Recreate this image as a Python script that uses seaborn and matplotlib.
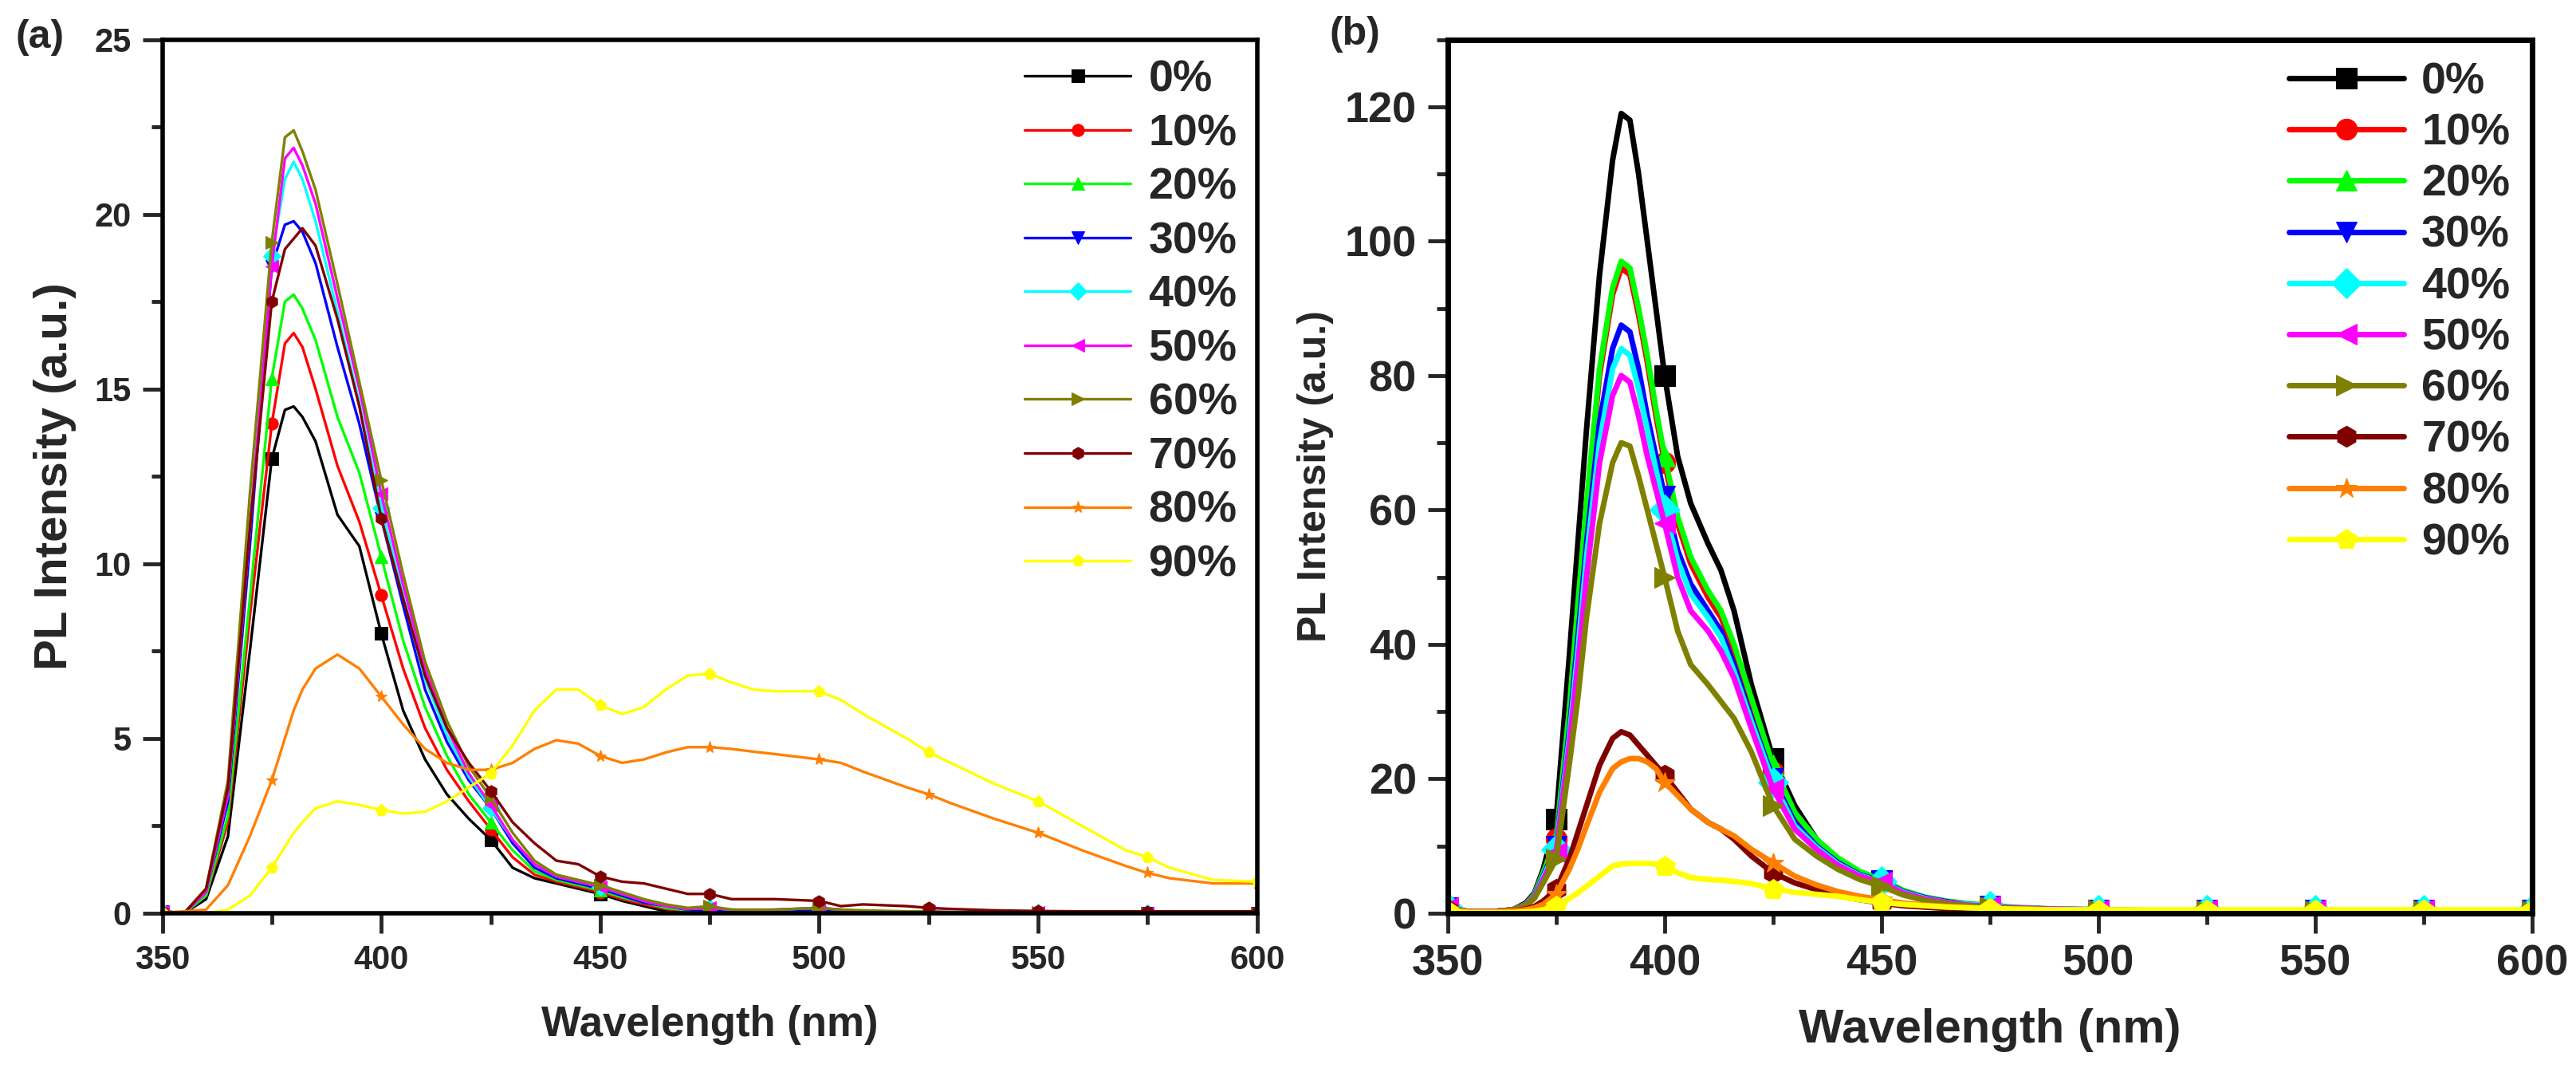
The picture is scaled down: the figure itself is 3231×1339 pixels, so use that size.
import numpy as np
import pandas as pd
import matplotlib
matplotlib.use("Agg")
import matplotlib.pyplot as plt
import seaborn as sns
from matplotlib.ticker import MultipleLocator

sns.set_theme(style="white")
plt.rcParams['font.family'] = ['Liberation Sans', 'DejaVu Sans']
plt.rcParams['font.weight'] = 'bold'

labels = ['0%', '10%', '20%', '30%', '40%', '50%', '60%', '70%', '80%', '90%']
colors = ['#000000', '#FF0000', '#00FF00', '#0000FF', '#00FFFF',
          '#FF00FF', '#808000', '#800000', '#FF8000', '#FFFF00']
markers = ['s', 'o', '^', 'v', 'D', '<', '>', 'h', '*', 'p']

# panel (a)
wl_a = [350, 355, 360, 365, 370, 375, 378, 380, 382, 385, 390, 395, 400, 405, 410,
        415, 420, 425, 430, 435, 440, 445, 450, 455, 460, 465, 470, 475, 480, 485,
        490, 500, 505, 510, 520, 525, 530, 540, 550, 560, 570, 575, 580, 590, 600]

a_0 = [0.05, 0, 0.4, 2.2, 7.5, 13.0, 14.4, 14.5, 14.2, 13.5, 11.4, 10.5, 8.0, 5.8, 4.4,
       3.4, 2.7, 2.1, 1.3, 1.0, 0.85, 0.7, 0.55, 0.35, 0.2, 0.05, 0, 0, 0, 0,
       0, 0, 0, 0, 0, 0, 0, 0, 0, 0, 0, 0, 0, 0, 0]
a_10 = [0.05, 0, 0.5, 2.6, 8.5, 14.0, 16.3, 16.6, 16.2, 15.0, 12.8, 11.2, 9.1, 7.0, 5.3,
        4.1, 3.2, 2.4, 1.6, 1.1, 0.9, 0.75, 0.6, 0.4, 0.25, 0.12, 0.05, 0.05, 0.02, 0,
        0, 0, 0, 0, 0, 0, 0, 0, 0, 0, 0, 0, 0, 0, 0]
a_20 = [0.05, 0, 0.5, 2.8, 9.0, 15.3, 17.5, 17.7, 17.3, 16.4, 14.2, 12.6, 10.2, 7.8, 5.9,
        4.5, 3.4, 2.6, 1.8, 1.2, 0.95, 0.8, 0.65, 0.45, 0.3, 0.15, 0.08, 0.1, 0.05, 0.05,
        0.03, 0.1, 0.05, 0.03, 0.02, 0.02, 0.02, 0.01, 0, 0, 0, 0, 0, 0, 0]
a_30 = [0.05, 0, 0.6, 3.2, 10.5, 18.5, 19.7, 19.8, 19.5, 18.6, 16.2, 14.0, 11.3, 8.8, 6.4,
        4.9, 3.8, 3.0, 2.0, 1.3, 1.0, 0.85, 0.7, 0.5, 0.3, 0.2, 0.1, 0.1, 0.05, 0.05,
        0.05, 0.1, 0.05, 0.05, 0.03, 0.03, 0.02, 0.01, 0, 0, 0, 0, 0, 0, 0]
a_40 = [0.05, 0, 0.6, 3.4, 11.0, 18.8, 21.0, 21.5, 21.0, 19.8, 17.2, 14.6, 11.6, 9.1, 6.7,
        5.1, 3.9, 3.0, 2.1, 1.4, 1.05, 0.9, 0.75, 0.55, 0.35, 0.2, 0.12, 0.15, 0.1, 0.08,
        0.1, 0.15, 0.1, 0.05, 0.05, 0.05, 0.03, 0.02, 0.01, 0, 0, 0, 0, 0, 0]
a_50 = [0.05, 0, 0.6, 3.4, 11.0, 18.5, 21.6, 21.9, 21.4, 20.3, 17.6, 15.0, 12.0, 9.4, 7.0,
        5.3, 4.0, 3.1, 2.1, 1.4, 1.05, 0.9, 0.75, 0.55, 0.35, 0.2, 0.12, 0.15, 0.1, 0.08,
        0.1, 0.15, 0.1, 0.05, 0.05, 0.05, 0.03, 0.02, 0.01, 0, 0, 0, 0, 0, 0]
a_60 = [0.05, 0, 0.7, 3.8, 12.0, 19.2, 22.2, 22.4, 21.8, 20.7, 18.0, 15.2, 12.4, 9.7, 7.2,
        5.5, 4.2, 3.3, 2.3, 1.5, 1.1, 0.95, 0.8, 0.6, 0.4, 0.25, 0.15, 0.2, 0.1, 0.1,
        0.1, 0.15, 0.1, 0.08, 0.05, 0.05, 0.03, 0.02, 0.01, 0, 0, 0, 0, 0, 0]
a_70 = [0.05, 0, 0.7, 3.6, 11.0, 17.5, 19.0, 19.3, 19.6, 19.1, 17.0, 14.5, 11.3, 9.0, 6.8,
        5.3, 4.3, 3.5, 2.6, 2.0, 1.5, 1.4, 1.05, 0.9, 0.85, 0.7, 0.55, 0.55, 0.4, 0.4,
        0.4, 0.35, 0.2, 0.25, 0.2, 0.15, 0.12, 0.08, 0.06, 0.05, 0.05, 0.05, 0.05, 0.05, 0.05]
a_80 = [0.02, 0.05, 0.1, 0.8, 2.2, 3.8, 5.0, 5.8, 6.4, 7.0, 7.4, 7.0, 6.2, 5.4, 4.7,
        4.3, 4.1, 4.1, 4.3, 4.7, 4.95, 4.85, 4.5, 4.3, 4.4, 4.6, 4.75, 4.75, 4.7, 4.62,
        4.55, 4.4, 4.3, 4.05, 3.6, 3.4, 3.15, 2.7, 2.3, 1.8, 1.35, 1.15, 1.0, 0.85, 0.85]
a_90 = [0.02, 0.02, 0.0, 0.1, 0.5, 1.3, 1.9, 2.3, 2.6, 3.0, 3.2, 3.1, 2.95, 2.85, 2.9,
        3.2, 3.6, 4.0, 4.8, 5.8, 6.4, 6.4, 5.95, 5.7, 5.9, 6.4, 6.8, 6.85, 6.6, 6.4,
        6.35, 6.35, 6.1, 5.7, 5.0, 4.6, 4.3, 3.7, 3.2, 2.5, 1.8, 1.6, 1.3, 0.95, 0.9]

# panel (b)
wl_b = [350, 355, 360, 365, 368, 370, 372, 375, 378, 380, 382, 385, 388, 390, 392, 394,
        396, 398, 400, 403, 406, 410, 413, 416, 420, 425, 430, 435, 440, 445, 450, 455,
        460, 465, 470, 475, 480, 490, 500, 510, 520, 525, 530, 540, 550, 560, 570, 575,
        580, 590, 600]

b_0 = [0.8, 0.2, 0.2, 0.5, 1.5, 3.0, 6.5, 14, 38, 55, 72, 95, 112, 119, 118, 110,
       100, 90, 80, 68, 61, 55, 51, 45, 34, 23, 16, 11, 8, 6, 4.8, 3.2,
       2.2, 1.6, 1.2, 1.0, 0.7, 0.5, 0.4, 0.3, 0.3, 0.3, 0.3, 0.3, 0.3, 0.3, 0.3, 0.3,
       0.3, 0.3, 0.3]
b_10 = [0.8, 0.2, 0.2, 0.5, 1.3, 2.8, 6, 11, 30, 45, 60, 80, 92, 96, 95, 89,
        82, 74, 67, 58, 52, 47, 44, 39, 31, 21, 14.5, 10.5, 7.8, 5.8, 4.6, 3.1,
        2.2, 1.6, 1.2, 1.0, 0.7, 0.5, 0.4, 0.3, 0.3, 0.3, 0.3, 0.3, 0.3, 0.3, 0.3, 0.3,
        0.3, 0.3, 0.3]
b_20 = [0.8, 0.2, 0.2, 0.5, 1.3, 2.8, 6, 11, 30, 46, 61, 81, 93, 97, 96, 90,
        83, 75, 68, 59, 53, 48, 45, 40, 32, 22, 15, 11, 8.2, 6.2, 5.0, 3.4,
        2.4, 1.8, 1.4, 1.2, 0.9, 0.6, 0.5, 0.4, 0.4, 0.4, 0.4, 0.4, 0.4, 0.4, 0.4, 0.4,
        0.4, 0.4, 0.4]
b_30 = [0.8, 0.2, 0.2, 0.5, 1.2, 2.6, 5.5, 10, 27, 41, 55, 73, 84, 87.5, 86.5, 81,
        74, 68, 62, 54, 49, 45, 42, 37, 29, 20, 13.5, 10, 7.5, 5.7, 4.8, 3.2,
        2.3, 1.7, 1.3, 1.1, 0.8, 0.6, 0.5, 0.4, 0.4, 0.4, 0.4, 0.4, 0.4, 0.4, 0.4, 0.4,
        0.4, 0.4, 0.4]
b_40 = [0.8, 0.2, 0.2, 0.5, 1.2, 2.5, 5.3, 9.5, 26, 39, 53, 70, 81, 84, 83, 78,
        72, 66, 60, 52.5, 47.5, 44, 41, 36, 28.5, 19.5, 13, 9.8, 7.3, 5.6, 4.7, 3.1,
        2.2, 1.6, 1.3, 1.1, 0.8, 0.6, 0.5, 0.4, 0.4, 0.4, 0.4, 0.4, 0.4, 0.4, 0.4, 0.4,
        0.4, 0.4, 0.4]
b_50 = [0.8, 0.2, 0.2, 0.5, 1.2, 2.4, 5, 9, 25, 37, 50, 67, 77, 80, 79, 74,
        68, 63, 58, 50, 45, 42, 39, 35, 27.5, 18.5, 12.5, 9.5, 7.1, 5.5, 4.6, 3.0,
        2.1, 1.6, 1.2, 1.0, 0.8, 0.6, 0.5, 0.4, 0.4, 0.4, 0.4, 0.4, 0.4, 0.4, 0.4, 0.4,
        0.4, 0.4, 0.4]
b_60 = [0.8, 0.2, 0.2, 0.5, 1.1, 2.2, 4.5, 8, 22, 32, 44, 58, 67, 70, 69.5, 65,
        60, 55, 50, 42, 37, 34, 31.5, 29, 24, 16, 11, 8.5, 6.5, 5.0, 4.0, 2.7,
        1.9, 1.4, 1.1, 0.9, 0.7, 0.5, 0.4, 0.3, 0.3, 0.3, 0.3, 0.3, 0.3, 0.3, 0.3, 0.3,
        0.3, 0.3, 0.3]
b_70 = [0.5, 0.2, 0.2, 0.3, 0.6, 1.0, 1.8, 3.5, 8, 12, 16, 22, 26, 27, 26.5, 25,
        23.5, 22, 20.5, 18, 15.5, 13.5, 12.5, 11, 8.5, 6, 4.5, 3.5, 2.6, 2.0, 1.5, 1.1,
        0.9, 0.7, 0.6, 0.5, 0.4, 0.3, 0.2, 0.2, 0.2, 0.2, 0.2, 0.2, 0.2, 0.2, 0.2, 0.2,
        0.2, 0.2, 0.2]
b_80 = [0.5, 0.2, 0.2, 0.3, 0.5, 0.8, 1.3, 2.8, 6.5, 9.5, 13, 18, 21.5, 22.5, 23, 23,
        22.5, 21.5, 19.5, 17.5, 15.5, 13.5, 12.5, 11.5, 9.5, 7.5, 5.5, 4.2, 3.2, 2.5, 2.0, 1.5,
        1.2, 1.0, 0.8, 0.7, 0.6, 0.5, 0.4, 0.4, 0.4, 0.4, 0.4, 0.4, 0.4, 0.4, 0.4, 0.4,
        0.4, 0.4, 0.4]
b_90 = [0.3, 0.1, 0.1, 0.1, 0.2, 0.3, 0.5, 1, 2.2, 3, 4, 5.5, 7, 7.3, 7.4, 7.4,
        7.4, 7.3, 7.0, 6.0, 5.3, 5.0, 4.9, 4.7, 4.4, 3.6, 3.1, 2.8, 2.5, 2.0, 1.6, 1.3,
        1.1, 0.9, 0.8, 0.7, 0.6, 0.5, 0.5, 0.5, 0.5, 0.5, 0.5, 0.5, 0.5, 0.5, 0.5, 0.5,
        0.5, 0.5, 0.5]

series_a = [a_0, a_10, a_20, a_30, a_40, a_50, a_60, a_70, a_80, a_90]
series_b = [b_0, b_10, b_20, b_30, b_40, b_50, b_60, b_70, b_80, b_90]


def draw_panel(ax, wl, series, lw, ms):
    every = [i for i, w in enumerate(wl) if w % 25 == 0]
    for lab, col, mk, vals in zip(labels, colors, markers, series):
        df = pd.DataFrame({'wl': wl, 'pl': vals})
        sns.lineplot(data=df, x='wl', y='pl', ax=ax, color=col, lw=lw,
                     marker=mk, markersize=ms, markevery=every,
                     markeredgecolor=col, label=lab)


def style_axes(ax, spine_w):
    for s in ax.spines.values():
        s.set_visible(True)
        s.set_color('black')
        s.set_linewidth(spine_w)
    ax.xaxis.set_major_locator(MultipleLocator(50))
    ax.xaxis.set_minor_locator(MultipleLocator(25))
    ax.tick_params(which='major', direction='out', length=18, width=3.5,
                   bottom=True, left=True, top=False, right=False, pad=10)
    ax.tick_params(which='minor', direction='out', length=10, width=3.5,
                   bottom=True, left=True, top=False, right=False)


fig = plt.figure(figsize=(32.31, 13.39), dpi=100)
ax1 = fig.add_axes([0.063, 0.145, 0.425, 0.818])
ax2 = fig.add_axes([0.562, 0.145, 0.421, 0.818])

draw_panel(ax1, wl_a, series_a, 2.4, 11)
draw_panel(ax2, wl_b, series_b, 5, 19)

# (a)
ax1.set_xlim(350, 600)
ax1.set_ylim(0, 25)
style_axes(ax1, 4)
ax1.yaxis.set_major_locator(MultipleLocator(5))
ax1.yaxis.set_minor_locator(MultipleLocator(2.5))
for t in ax1.get_xticklabels() + ax1.get_yticklabels():
    t.set_fontsize(30)
    t.set_fontweight('bold')
ax1.set_xlabel('Wavelength (nm)', fontsize=38, fontweight='bold', labelpad=26)
ax1.set_ylabel('PL Intensity (a.u.)', fontsize=42, fontweight='bold', labelpad=16)
ax1.legend(loc='upper right', frameon=False, fontsize=40, handlelength=2.4,
           labelspacing=0.28, handletextpad=0.4, borderaxespad=0.05, numpoints=1)
fig.text(0.006, 0.965, '(a)', fontsize=36, fontweight='bold', ha='left', va='center')

# (b)
ax2.set_xlim(350, 600)
ax2.set_ylim(0, 130)
style_axes(ax2, 5)
ax2.yaxis.set_major_locator(MultipleLocator(20))
ax2.yaxis.set_minor_locator(MultipleLocator(10))
for t in ax2.get_xticklabels() + ax2.get_yticklabels():
    t.set_fontsize(39)
    t.set_fontweight('bold')
ax2.set_xlabel('Wavelength (nm)', fontsize=43, fontweight='bold', labelpad=22)
ax2.set_ylabel('PL Intensity (a.u.)', fontsize=36, fontweight='bold', labelpad=10)
ax2.legend(loc='upper right', frameon=False, fontsize=40, handlelength=2.6,
           labelspacing=0.22, handletextpad=0.4, borderaxespad=0.1, numpoints=1)
fig.text(0.516, 0.968, '(b)', fontsize=36, fontweight='bold', ha='left', va='center')

fig.savefig('out.png', dpi=100)
